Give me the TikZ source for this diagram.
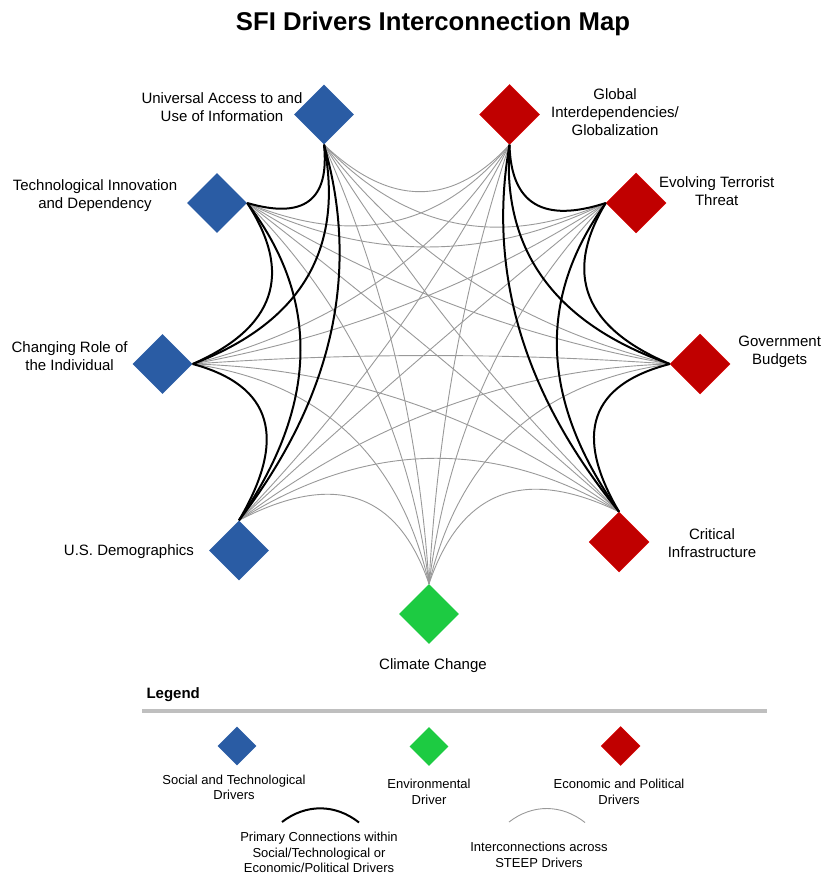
\documentclass[tikz,border=0pt]{standalone}
\usepackage{fontspec}
\setmainfont{Liberation Sans}
\usetikzlibrary{shapes.geometric,calc}

\definecolor{socblue}{HTML}{2A5CA4}
\definecolor{envgreen}{HTML}{1DCB42}
\definecolor{ecored}{HTML}{C00000}

\begin{document}
\begin{tikzpicture}[x=1pt, y=-1pt,
                    primary/.style={link, draw=black, line width=2pt},
                    cross/.style={link, draw=black!40, line width=0.9pt}]
    \tikzstyle{driver}=[diamond, minimum size=60pt, inner sep=0pt]
    \tikzstyle{social}=[driver, fill=socblue]
    \tikzstyle{enviro}=[driver, fill=envgreen]
    \tikzstyle{econ}=[driver, fill=ecored, draw=red!85!black, line width=0.5pt]
    \tikzstyle{drvtext}=[align=center, font=\fontsize{15}{18}\selectfont]
    \tikzstyle{keytext}=[align=center, font=\fontsize{13}{15.6}\selectfont]
    % curved link, pulled towards the hub
    \tikzstyle{link}=[to path={let \p1=(\tikztostart), \p2=(\tikztotarget),
        \p3=($(\p1)!.5!(\p2)$), \p4=(hub),
        \n1={veclen(\x2-\x1,\y2-\y1)},
        \n2={\n1/(\n1+200pt)*veclen(\x4-\x3,\y4-\y3)},
        \p5=($(\p3)!\n2*1pt!(\p4)$) in
        .. controls ($(\p1)!2/3!(\p5)$) and ($(\p2)!2/3!(\p5)$) .. (\tikztotarget)}]

    \useasboundingbox (0,0) rectangle (831,874);
    \coordinate (hub) at (430,340);

    \node[font=\bfseries\fontsize{25.7}{30}\selectfont] (title) at (433,24)
        {SFI Drivers Interconnection Map};

    \node[social] (ua)  at (324,114.5) {};
    \node[econ]   (gi)  at (509.5,114.5) {};
    \node[social] (ti)  at (217,203) {};
    \node[econ]   (et)  at (636,203) {};
    \node[social] (cr)  at (162.5,364) {};
    \node[econ]   (gb)  at (700,364) {};
    \node[social] (usd) at (239,550.5) {};
    \node[econ]   (ci)  at (619,542) {};
    \node[enviro] (cc)  at (429,614) {};

    \coordinate (ua-p)  at (ua.south);
    \coordinate (gi-p)  at (gi.south);
    \coordinate (ti-p)  at (ti.east);
    \coordinate (et-p)  at (et.west);
    \coordinate (cr-p)  at (cr.east);
    \coordinate (gb-p)  at (gb.west);
    \coordinate (usd-p) at (usd.north);
    \coordinate (ci-p)  at (ci.north);
    \coordinate (cc-p)  at (cc.north);

    \node[drvtext] (ua-t)  at (222,107)   {Universal Access to and\\Use of Information};
    \node[drvtext] (gi-t)  at (615,112)   {Global\\Interdependencies/\\Globalization};
    \node[drvtext] (ti-t)  at (95,196)    {Technological Innovation\\and Dependency};
    \node[drvtext] (et-t)  at (716.7,191) {Evolving Terrorist\\Threat};
    \node[drvtext] (cr-t)  at (69.6,355.7) {Changing Role of\\the Individual};
    \node[drvtext] (gb-t)  at (779.7,352) {Government\\Budgets};
    \node[drvtext] (ci-t)  at (712,542.7) {Critical\\Infrastructure};
    \node[drvtext] (usd-t) at (129,552)   {U.S. Demographics};
    \node[drvtext] (cc-t)  at (433,665.5) {Climate Change};

    % interconnections across drivers
    \path (ua-p)  edge[cross] (gi-p) edge[cross] (et-p) edge[cross] (gb-p)
                  edge[cross] (ci-p) edge[cross] (cc-p);
    \path (ti-p)  edge[cross] (gi-p) edge[cross] (et-p) edge[cross] (gb-p)
                  edge[cross] (ci-p) edge[cross] (cc-p);
    \path (cr-p)  edge[cross] (gi-p) edge[cross] (et-p) edge[cross] (gb-p)
                  edge[cross] (ci-p) edge[cross] (cc-p);
    \path (usd-p) edge[cross] (gi-p) edge[cross] (et-p) edge[cross] (gb-p)
                  edge[cross] (ci-p) edge[cross] (cc-p);
    \path (cc-p)  edge[cross] (gi-p) edge[cross] (et-p) edge[cross] (gb-p)
                  edge[cross] (ci-p);

    % primary connections within a group
    \path (ua-p)  edge[primary] (ti-p) edge[primary] (cr-p) edge[primary] (usd-p);
    \path (ti-p)  edge[primary] (cr-p) edge[primary] (usd-p);
    \path (cr-p)  edge[primary] (usd-p);
    \path (gi-p)  edge[primary] (et-p) edge[primary] (gb-p) edge[primary] (ci-p);
    \path (et-p)  edge[primary] (gb-p) edge[primary] (ci-p);
    \path (gb-p)  edge[primary] (ci-p);

    % legend
    \node[font=\bfseries\fontsize{15}{18}\selectfont, anchor=west] (legend) at (143,695) {Legend};
    \draw[line width=4pt, black!25] (142,711) -- (767,711);

    \node[social, minimum size=39pt] (key-soc) at (237,746) {};
    \node[enviro, minimum size=39pt] (key-env) at (429,746.5) {};
    \node[econ, minimum size=39pt]   (key-eco) at (620.7,746) {};
    \node[keytext] (key-soc-t) at (234,787.5) {Social and Technological\\Drivers};
    \node[keytext] (key-env-t) at (429,792)   {Environmental\\Driver};
    \node[keytext] (key-eco-t) at (619,792)   {Economic and Political\\Drivers};

    \coordinate (key-p1) at (282,822);
    \coordinate (key-p2) at (359,822.5);
    \coordinate (key-c1) at (509,822);
    \coordinate (key-c2) at (585,822.5);
    \draw[black, line width=2pt] (key-p1) to[bend left=38] (key-p2);
    \draw[black!40, line width=0.9pt] (key-c1) to[bend left=38] (key-c2);
    \node[keytext] (key-p-t) at (319,852.5)
        {Primary Connections within\\Social/Technological or\\Economic/Political Drivers};
    \node[keytext] (key-c-t) at (539,855) {Interconnections across\\STEEP Drivers};
\end{tikzpicture}
\end{document}
